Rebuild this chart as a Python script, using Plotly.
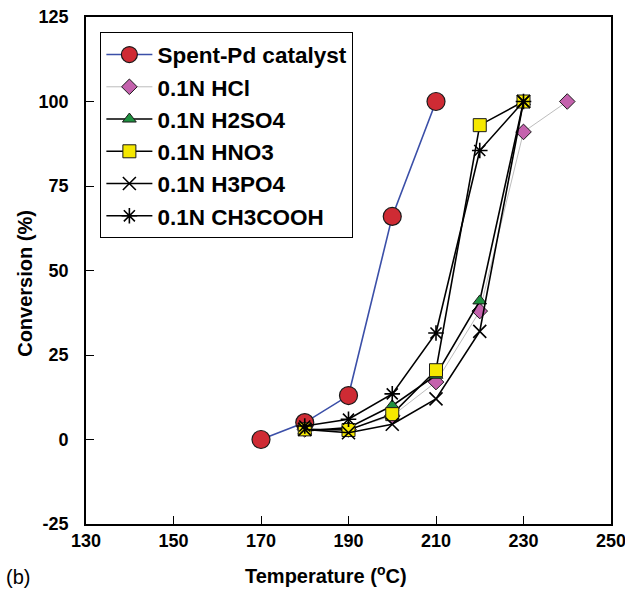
import plotly.graph_objects as go

# Temperatures (°C) at which conversion was measured
temp_pd = [170, 180, 190, 200, 210]
temp_acid = [180, 190, 200, 210, 220, 230]
temp_hcl = [180, 190, 200, 210, 220, 230, 240]

# Conversion (%) for each catalyst
conv_spent_pd = [0, 5, 13, 66, 100]
conv_hcl = [3, 3, 7, 17, 38, 91, 100]
conv_h2so4 = [2.5, 3.5, 10, 19, 41, 100]
conv_hno3 = [3, 2.8, 7.5, 20.5, 93, 100]
conv_h3po4 = [3, 2, 4.5, 12, 32, 100]
conv_ch3cooh = [4, 6, 13.5, 31.5, 85.5, 100]

x_ticks = [130, 150, 170, 190, 210, 230, 250]
y_ticks = [-25, 0, 25, 50, 75, 100, 125]
y_tick_text = ["-25", "0", "25", "50", "75", "100", "125"]

FONT = "Liberation Sans, Arial, sans-serif"
OUTLINE = "#1a1a1a"

fig = go.Figure()

fig.add_trace(go.Scatter(
    x=temp_pd, y=conv_spent_pd, name="Spent-Pd catalyst", mode="lines+markers",
    line=dict(color="#3b4fa8", width=1.6),
    marker=dict(symbol="circle", size=18, color="#cf2b34",
                line=dict(color=OUTLINE, width=1.2)),
))
fig.add_trace(go.Scatter(
    x=temp_hcl, y=conv_hcl, name="0.1N HCl", mode="lines+markers",
    line=dict(color="#bdbdbd", width=1),
    marker=dict(symbol="diamond", size=12, color="#c462ad",
                line=dict(color=OUTLINE, width=1)),
))
fig.add_trace(go.Scatter(
    x=temp_acid, y=conv_h2so4, name="0.1N H2SO4", mode="lines+markers",
    line=dict(color="black", width=1.6),
    marker=dict(symbol="triangle-up", size=12, color="#1f9140",
                line=dict(color=OUTLINE, width=1)),
))
fig.add_trace(go.Scatter(
    x=temp_acid, y=conv_hno3, name="0.1N HNO3", mode="lines+markers",
    line=dict(color="black", width=1.6),
    marker=dict(symbol="square", size=13, color="#f5e800",
                line=dict(color=OUTLINE, width=1)),
))
fig.add_trace(go.Scatter(
    x=temp_acid, y=conv_h3po4, name="0.1N H3PO4", mode="lines+markers",
    line=dict(color="black", width=1.6),
    marker=dict(symbol="x-thin-open", size=13, color="black",
                line=dict(color="black", width=1.6)),
))
fig.add_trace(go.Scatter(
    x=temp_acid, y=conv_ch3cooh, name="0.1N CH3COOH", mode="lines+markers",
    line=dict(color="black", width=1.6),
    marker=dict(symbol="asterisk-open", size=13, color="black",
                line=dict(color="black", width=1.6)),
))

axis_common = dict(
    showline=True, linecolor="black", linewidth=1.6, mirror=True,
    ticks="inside", ticklen=8, tickwidth=1.4, tickcolor="black",
    showgrid=False, zeroline=False, ticklabeloverflow="allow", automargin=False,
    tickfont=dict(family=FONT, size=18, color="black", weight="bold"),
)

fig.update_xaxes(range=[130, 250], tickvals=x_ticks, ticklabelstandoff=0, **axis_common)
fig.update_yaxes(range=[-25, 125], tickvals=y_ticks, ticktext=y_tick_text,
                 ticklabelstandoff=12, **axis_common)

fig.update_layout(
    width=625, height=590,
    margin=dict(l=86, r=14, t=17, b=66),
    paper_bgcolor="white", plot_bgcolor="white",
    font=dict(family=FONT, color="black"),
    legend=dict(
        x=0.027, y=0.970, xanchor="left", yanchor="top",
        bgcolor="white", bordercolor="black", borderwidth=1.2,
        font=dict(family=FONT, size=22.5, color="black", weight="bold"),
        tracegroupgap=0, itemwidth=46,
    ),
    annotations=[
        dict(text="Temperature (<sup>o</sup>C)", xref="paper", yref="paper",
             x=0.457, y=-0.100, xanchor="center", yanchor="middle", showarrow=False,
             font=dict(family=FONT, size=20, color="black", weight="bold")),
        dict(text="Conversion (%)", xref="paper", yref="paper",
             x=-0.115, y=0.475, xanchor="center", yanchor="middle", showarrow=False,
             textangle=-90,
             font=dict(family=FONT, size=20, color="black", weight="bold")),
        dict(text="(b)", xref="paper", yref="paper",
             x=-0.13, y=-0.105, xanchor="center", yanchor="middle", showarrow=False,
             font=dict(family=FONT, size=20, color="black")),
    ],
)

fig.write_html("out.html")
